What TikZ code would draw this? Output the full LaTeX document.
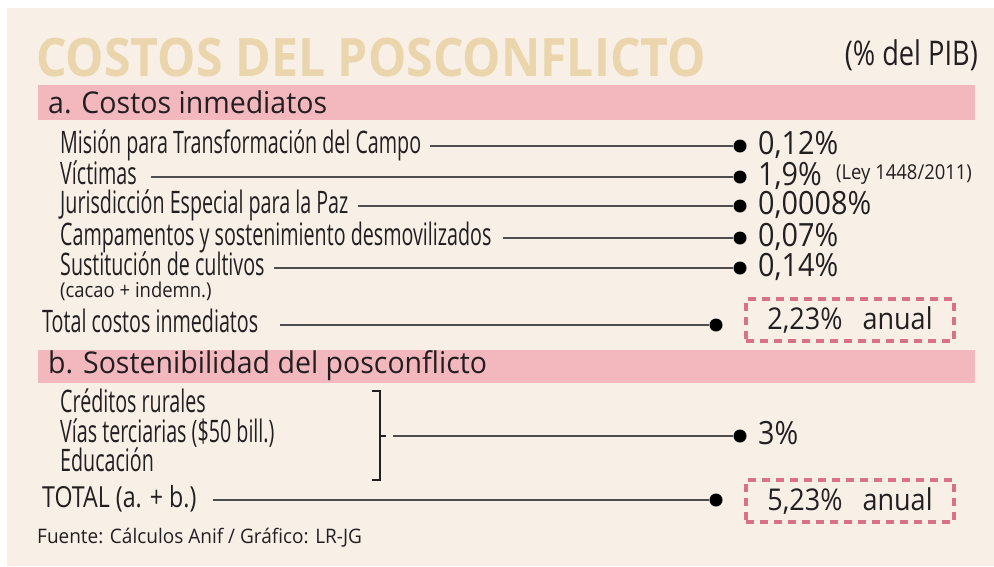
\documentclass[tikz,border=0pt]{standalone}
\usepackage{fontspec}
\setmainfont{Open Sans}
\newfontfamily\condfont[FakeStretch=0.635]{Open Sans}
\newfontfamily\pibfont[FakeStretch=0.8]{Open Sans}
\newfontfamily\normfont[FakeStretch=0.9]{Open Sans}
\newfontfamily\secfont[FakeStretch=0.95]{Open Sans}
\newfontfamily\titfont[FakeStretch=0.91]{Open Sans}
\definecolor{fondo}{HTML}{F8F0E7}
\definecolor{banda}{HTML}{F2B8BE}
\definecolor{titulo}{HTML}{EAD5AC}
\definecolor{rayas}{HTML}{D9718A}
\definecolor{tinta}{HTML}{231F20}
\tikzset{
  etiqueta/.style={anchor=west, inner sep=0pt, text height=21pt, text depth=6pt, text=tinta,
    font=\condfont\fontsize{31}{33}\selectfont},
  valor/.style={anchor=west, inner sep=0pt, text height=22pt, text depth=6pt, text=tinta,
    font=\normfont\fontsize{32}{34}\selectfont},
  seccion/.style={anchor=west, inner sep=0pt, text=tinta, font=\secfont\fontsize{30}{32}\selectfont},
  nota/.style={anchor=west, inner sep=0pt, text=tinta, font=\normfont\fontsize{20.5}{22}\selectfont},
  punto/.style={circle, fill=black, inner sep=0pt, minimum size=13pt},
  linea/.style={draw=tinta!80, line width=1.2pt},
  caja/.style={draw=rayas, line width=3.5pt, dash pattern=on 8pt off 6pt, inner sep=0pt,
    minimum width=208pt, minimum height=42pt, text=tinta, font=\normfont\fontsize{30}{32}\selectfont}
}
\begin{document}
\begin{tikzpicture}[x=1pt,y=-1pt]
	% Fondo
	\useasboundingbox (0,0) rectangle (994,566);
	\fill[white] (0,0) rectangle (994,566);
	\fill[fondo] (7,8) rectangle (994,566);
	
	% Titulo
	\node[anchor=base west, inner sep=0pt, text=titulo, font=\titfont\bfseries\fontsize{53}{53}\selectfont] (tit) at (36,76) {COSTOS DEL POSCONFLICTO};
	\node[anchor=base east, inner sep=0pt, text=tinta, font=\pibfont\fontsize{34}{34}\selectfont] (pib) at (978,65) {(\% del PIB)};
	
	% a. Costos inmediatos
	\fill[banda] (38,85) rectangle (975,120);
	\node[seccion] (secA) at (48,102) {a. Costos inmediatos};
	\node[etiqueta] (mision) at (60,146) {Misión para Transformación del Campo};
	\node[etiqueta] (victimas) at (60,177) {Víctimas};
	\node[etiqueta] (jep) at (60,206) {Jurisdicción Especial para la Paz};
	\node[etiqueta] (campam) at (60,238) {Campamentos y sostenimiento desmovilizados};
	\node[etiqueta] (sustit) at (60,268) {Sustitución de cultivos};
	\node[nota] (cacao) at (60,291) {(cacao + indemn.)};
	\node[punto] (p1) at (740,146) {};
	\node[punto] (p2) at (740,177) {};
	\node[punto] (p3) at (740,206) {};
	\node[punto] (p4) at (740,238) {};
	\node[punto] (p5) at (740,268) {};
	\node[valor] (v1) at (758,146) {0,12\%};
	\node[valor] (v2) at (758,177) {1,9\%};
	\node[nota] (ley) at (836,175) {(Ley 1448/2011)};
	\node[valor] (v3) at (758,206) {0,0008\%};
	\node[valor] (v4) at (758,238) {0,07\%};
	\node[valor] (v5) at (758,268) {0,14\%};
	\draw[linea] ([xshift=9pt]mision.east) -- (p1);
	\draw[linea] ([xshift=14pt]victimas.east) -- (p2);
	\draw[linea] ([xshift=9pt]jep.east) -- (p3);
	\draw[linea] ([xshift=11pt]campam.east) -- (p4);
	\draw[linea] ([xshift=9pt]sustit.east) -- (p5);
	
	% Total a.
	\node[etiqueta] (totA) at (42,325) {Total costos inmediatos};
	\node[punto] (pA) at (716,325) {};
	\node[caja] (cajaA) at (850,320) {2,23\%\hspace{20pt}anual};
	\draw[linea] ([xshift=22pt]totA.east) -- (pA);
	
	% b. Sostenibilidad
	\fill[banda] (38,350) rectangle (975,383);
	\node[seccion] (secB) at (48,366) {b. Sostenibilidad del posconflicto};
	\node[etiqueta] (creditos) at (60,405) {Créditos rurales};
	\node[etiqueta] (vias) at (60,435) {Vías terciarias (\$50 bill.)};
	\node[etiqueta] (educ) at (60,464) {Educación};
	\draw[tinta, line width=1.5pt] (372,391) -- (380,391) -- (380,480) -- (372,480);
	\draw[tinta, line width=1.5pt] (380,436) -- (386,436);
	\coordinate (llave) at (393,436);
	\node[punto] (p6) at (740,436) {};
	\node[valor] (v6) at (758,436) {3\%};
	\draw[linea] (llave) -- (p6);
	
	% Total general
	\node[etiqueta, font=\pibfont\fontsize{29}{31}\selectfont] (totAB) at (42,500) {TOTAL (a. + b.)};
	\node[punto] (pAB) at (716,500) {};
	\node[caja] (cajaAB) at (850,501) {5,23\%\hspace{20pt}anual};
	\draw[linea] ([xshift=16pt]totAB.east) -- (pAB);
	
	% Fuente
	\node[anchor=base west, inner sep=0pt, text=tinta, font=\secfont\fontsize{20}{22}\selectfont] (fuente) at (37,543) {Fuente: Cálculos Anif / Gráfico: LR-JG};
\end{tikzpicture}
\end{document}
